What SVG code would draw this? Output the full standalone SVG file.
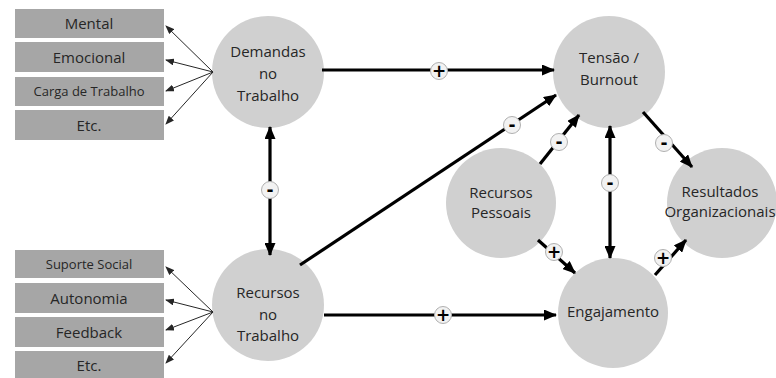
<svg xmlns="http://www.w3.org/2000/svg" width="776" height="378" viewBox="0 0 776 378">
<style>
.box{fill:#a6a6a6}
.node{fill:#d0d0d0}
.t{font-family:"Open Sans","Noto Sans",sans-serif;fill:#262626;text-anchor:middle}
.tn{font-size:15px}
.ts{font-size:13px}
.thick{stroke:#000;stroke-width:3.2;fill:none}
.thin{stroke:#262626;stroke-width:1;fill:none}
.badge{fill:#f2f2f2;stroke:#b0b0b0;stroke-width:1}
.bt{font-family:"DejaVu Sans",sans-serif;font-weight:bold;font-size:17px;fill:#000;text-anchor:middle}
</style>
<defs>
<marker id="ah" markerUnits="userSpaceOnUse" markerWidth="13" markerHeight="11" refX="12" refY="5.5" orient="auto-start-reverse" viewBox="0 0 13 11">
<path d="M0,0 L13,5.5 L0,11 z" fill="#000"/>
</marker>
<marker id="ah2" markerUnits="userSpaceOnUse" markerWidth="9" markerHeight="7" refX="8" refY="3.5" orient="auto" viewBox="0 0 9 7">
<path d="M0,0 L9,3.5 L0,7 z" fill="#262626"/>
</marker>
</defs>
<rect width="776" height="378" fill="#fff"/>

<g id="box-mental"><rect class="box" x="15" y="9" width="149" height="29"/><text class="t tn" x="89" y="29">Mental</text></g>
<g id="box-emocional"><rect class="box" x="15" y="42" width="149" height="30"/><text class="t tn" x="89" y="63">Emocional</text></g>
<g id="box-carga"><rect class="box" x="15" y="77" width="149" height="29"/><text class="t ts" x="89" y="96">Carga de Trabalho</text></g>
<g id="box-etc1"><rect class="box" x="15" y="110" width="149" height="30"/><text class="t tn" x="89" y="131">Etc.</text></g>

<g id="box-suporte"><rect class="box" x="15" y="250" width="149" height="28"/><text class="t ts" x="89" y="269">Suporte  Social</text></g>
<g id="box-autonomia"><rect class="box" x="15" y="283" width="149" height="30"/><text class="t tn" x="89" y="304">Autonomia</text></g>
<g id="box-feedback"><rect class="box" x="15" y="317" width="149" height="30"/><text class="t tn" x="89" y="338">Feedback</text></g>
<g id="box-etc2"><rect class="box" x="15" y="351" width="149" height="29"/><text class="t tn" x="89" y="371">Etc.</text></g>

<g id="node-demandas"><circle class="node" cx="268" cy="72" r="56"/><text class="t tn" x="268" y="57">Demandas</text><text class="t tn" x="268" y="79">no</text><text class="t tn" x="268" y="101">Trabalho</text></g>
<g id="node-recursos"><circle class="node" cx="268" cy="305" r="56"/><text class="t tn" x="268" y="298">Recursos</text><text class="t tn" x="268" y="320">no</text><text class="t tn" x="268" y="341">Trabalho</text></g>
<g id="node-tensao"><circle class="node" cx="609" cy="72" r="56"/><text class="t tn" x="609" y="63">Tensão /</text><text class="t tn" x="609" y="85">Burnout</text></g>
<g id="node-pessoais"><circle class="node" cx="501" cy="203" r="55"/><text class="t tn" x="501" y="198">Recursos</text><text class="t tn" x="501" y="218">Pessoais</text></g>
<g id="node-resultados"><circle class="node" cx="722" cy="203" r="55"/><text class="t tn" x="720" y="197">Resultados</text><text class="t tn" x="720" y="217">Organizacionais</text></g>
<g id="node-engajamento"><circle class="node" cx="613" cy="313" r="55"/><text class="t tn" x="613" y="317">Engajamento</text></g>

<g id="connectors">
<line class="thin" x1="213" y1="72" x2="166" y2="26" marker-end="url(#ah2)"/>
<line class="thin" x1="213" y1="72" x2="166" y2="60" marker-end="url(#ah2)"/>
<line class="thin" x1="213" y1="72" x2="166" y2="91" marker-end="url(#ah2)"/>
<line class="thin" x1="213" y1="72" x2="166" y2="124" marker-end="url(#ah2)"/>
<line class="thin" x1="213" y1="312" x2="166" y2="267" marker-end="url(#ah2)"/>
<line class="thin" x1="213" y1="312" x2="166" y2="300" marker-end="url(#ah2)"/>
<line class="thin" x1="213" y1="312" x2="166" y2="330" marker-end="url(#ah2)"/>
<line class="thin" x1="213" y1="312" x2="166" y2="363" marker-end="url(#ah2)"/>

<line class="thick" x1="322" y1="70" x2="554" y2="70" marker-end="url(#ah)"/>
<line class="thick" x1="324" y1="315" x2="556" y2="315" marker-end="url(#ah)"/>
<line class="thick" x1="270" y1="127" x2="270" y2="255" marker-start="url(#ah)" marker-end="url(#ah)"/>
<line class="thick" x1="300" y1="265" x2="556" y2="95" marker-end="url(#ah)"/>
<line class="thick" x1="540" y1="164" x2="579" y2="115" marker-end="url(#ah)"/>
<line class="thick" x1="610" y1="126" x2="610" y2="258" marker-start="url(#ah)" marker-end="url(#ah)"/>
<line class="thick" x1="643" y1="112" x2="692" y2="167" marker-end="url(#ah)"/>
<line class="thick" x1="538" y1="240" x2="575" y2="273" marker-end="url(#ah)"/>
<line class="thick" x1="655" y1="275" x2="686" y2="240" marker-end="url(#ah)"/>

<g id="badges">
<circle class="badge" cx="439" cy="71" r="8.5"/><text class="bt" x="439" y="77">+</text>
<circle class="badge" cx="443" cy="315" r="8.5"/><text class="bt" x="443" y="321">+</text>
<circle class="badge" cx="270" cy="190" r="8.5"/><text class="bt" x="270" y="195.5">-</text>
<circle class="badge" cx="512" cy="125" r="8.5"/><text class="bt" x="512" y="130.5">-</text>
<circle class="badge" cx="559" cy="142" r="8.5"/><text class="bt" x="559" y="147.5">-</text>
<circle class="badge" cx="610" cy="183" r="8.5"/><text class="bt" x="610" y="188.5">-</text>
<circle class="badge" cx="664" cy="143" r="8.5"/><text class="bt" x="664" y="148.5">-</text>
<circle class="badge" cx="554" cy="252" r="8.5"/><text class="bt" x="554" y="258">+</text>
<circle class="badge" cx="663" cy="258" r="8.5"/><text class="bt" x="663" y="264">+</text>
</g>
</g>
</svg>
